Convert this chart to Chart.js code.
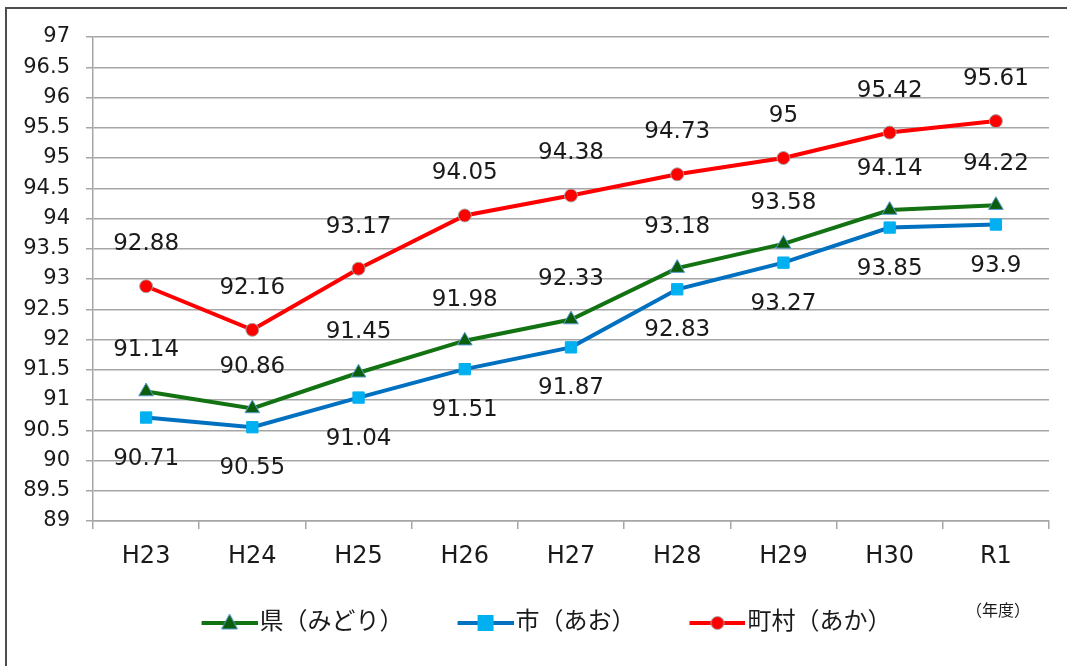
<!DOCTYPE html>
<html>
<head>
<meta charset="utf-8">
<script src="https://cdn.jsdelivr.net/npm/chart.js@4/dist/chart.umd.min.js"></script>
<style>
  html, body { margin: 0; padding: 0; background: #fff; overflow: hidden; }
  #frame { position: absolute; left: 5px; top: 7px; width: 1200px; height: 800px;
           border-left: 2px solid #4d4d4d; border-top: 2px solid #4d4d4d; }
  #wrap { position: absolute; left: 0; top: 0; width: 1067px; height: 666px; }
</style>
</head>
<body>
<div id="frame"></div>
<div id="wrap"><canvas id="chart"></canvas></div>
<script>
const years = ["H23", "H24", "H25", "H26", "H27", "H28", "H29", "H30", "R1"];
const ken = [91.14, 90.86, 91.45, 91.98, 92.33, 93.18, 93.58, 94.14, 94.22];
const shi = [90.71, 90.55, 91.04, 91.51, 91.87, 92.83, 93.27, 93.85, 93.9];
const choson = [92.88, 92.16, 93.17, 94.05, 94.38, 94.73, 95, 95.42, 95.61];
const seriesNames = ["県（みどり）", "市（あお）", "町村（あか）"];
const unitLabel = "（年度）";

const FONT = '"DejaVu Sans", "Noto Sans CJK JP", sans-serif';
const TEXT = "#1a1a1a";

// legend swatch: line with the marker, extra blank space on the left to set spacing
function swatch(lineColor, drawMarker) {
  const pad = 54, w = 56, h = 22;
  const c = document.createElement("canvas");
  c.width = pad + w; c.height = h;
  const g = c.getContext("2d");
  g.strokeStyle = lineColor;
  g.lineWidth = 4;
  g.beginPath();
  g.moveTo(pad, h / 2);
  g.lineTo(pad + w, h / 2);
  g.stroke();
  drawMarker(g, pad + w / 2, h / 2);
  return c;
}

const swatches = [
  swatch("#137313", (g, x, y) => {
    g.fillStyle = "#0b5e0b"; g.strokeStyle = "#5b9bd5"; g.lineWidth = 1;
    g.beginPath(); g.moveTo(x, y - 9); g.lineTo(x + 8, y + 6); g.lineTo(x - 8, y + 6); g.closePath();
    g.fill(); g.stroke();
  }),
  swatch("#0070c0", (g, x, y) => {
    g.fillStyle = "#00b0f0";
    g.fillRect(x - 8, y - 8, 16, 16);
  }),
  swatch("#ff0000", (g, x, y) => {
    g.fillStyle = "#ff0000"; g.strokeStyle = "#a6a6a6"; g.lineWidth = 1;
    g.beginPath(); g.arc(x, y, 6.5, 0, Math.PI * 2); g.fill(); g.stroke();
  })
];

const valueLabels = {
  id: "valueLabels",
  afterDatasetsDraw(chart) {
    const ctx = chart.ctx;
    ctx.save();
    ctx.font = "23px " + FONT;
    ctx.fillStyle = TEXT;
    ctx.textAlign = "center";
    ctx.textBaseline = "middle";
    chart.data.datasets.forEach((ds, i) => {
      chart.getDatasetMeta(i).data.forEach((pt, j) => {
        ctx.fillText(String(ds.data[j]), pt.x, pt.y + ds.labelShift);
      });
    });
    const x = chart.scales.x.getPixelForValue(years.length - 1);
    ctx.font = "16px " + FONT;
    ctx.fillText(unitLabel, x + 2, chart.chartArea.bottom + 91);
    ctx.restore();
  }
};

new Chart(document.getElementById("chart"), {
  type: "line",
  data: {
    labels: years,
    datasets: [
      {
        label: seriesNames[0], data: ken, labelShift: -41,
        borderColor: "#137313", borderWidth: 4,
        pointStyle: "triangle", pointRadius: 8.5,
        pointBackgroundColor: "#0b5e0b", pointBorderColor: "#5b9bd5", pointBorderWidth: 1
      },
      {
        label: seriesNames[1], data: shi, labelShift: 41,
        borderColor: "#0070c0", borderWidth: 4,
        pointStyle: "rect", pointRadius: 8,
        pointBackgroundColor: "#00b0f0", pointBorderColor: "#00b0f0", pointBorderWidth: 1
      },
      {
        label: seriesNames[2], data: choson, labelShift: -42,
        borderColor: "#ff0000", borderWidth: 4,
        pointStyle: "circle", pointRadius: 6.5,
        pointBackgroundColor: "#ff0000", pointBorderColor: "#a6a6a6", pointBorderWidth: 1
      }
    ]
  },
  options: {
    responsive: true,
    maintainAspectRatio: false,
    animation: false,
    layout: { padding: { left: 0, right: 18, top: 37, bottom: 21 } },
    plugins: {
      tooltip: { enabled: false },
      legend: {
        position: "bottom",
        labels: {
          usePointStyle: true,
          pointStyleWidth: 90,
          padding: 10,
          color: TEXT,
          font: { family: FONT, size: 24 },
          generateLabels: chart => chart.data.datasets.map((ds, i) => ({
            text: ds.label,
            pointStyle: swatches[i],
            fillStyle: ds.borderColor,
            strokeStyle: ds.borderColor,
            lineWidth: 0,
            fontColor: TEXT,
            hidden: false,
            datasetIndex: i
          }))
        }
      }
    },
    scales: {
      x: {
        offset: true,
        afterFit: s => { s.height = 80; },
        grid: { offset: true, drawOnChartArea: false, drawTicks: true, tickLength: 8, color: "#a6a6a6", lineWidth: 1.5 },
        border: { color: "#a6a6a6", width: 1.5 },
        ticks: { color: TEXT, padding: 13, font: { family: FONT, size: 24 } }
      },
      y: {
        min: 89, max: 97,
        afterFit: s => { s.width = 93; },
        grid: { color: "#a6a6a6", lineWidth: 1.5, tickLength: 7 },
        border: { color: "#a6a6a6", width: 1.5 },
        ticks: {
          stepSize: 0.5, color: TEXT, padding: 16, font: { family: FONT, size: 21 },
          callback: v => String(v)
        }
      }
    }
  },
  plugins: [valueLabels]
});
</script>
</body>
</html>
